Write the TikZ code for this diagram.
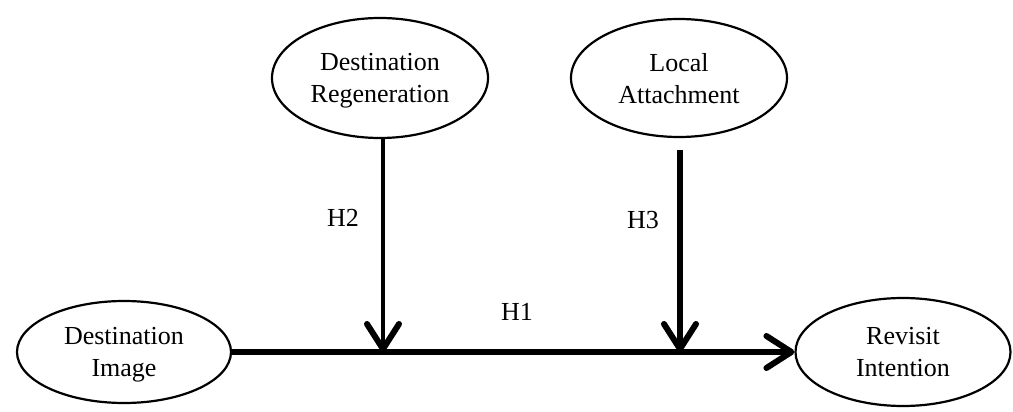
\documentclass[tikz,border=0pt]{standalone}
\usepackage{fontspec}
\setmainfont{Liberation Serif}
\usetikzlibrary{shapes.geometric,arrows.meta}
\begin{document}
\begin{tikzpicture}[x=1pt,y=-1pt,
  construct/.style={draw, ellipse, line width=2.2pt, inner sep=0pt, align=center,
    font=\fontsize{26}{32}\selectfont, text depth=0pt},
  lbl/.style={font=\fontsize{26}{30}\selectfont, inner sep=0pt},
  barb/.style={-{Straight Barb[length=25pt,width=32pt,line width=6pt,round]}}]
\useasboundingbox (0,0) rectangle (1013,412);
\node[construct, minimum width=216pt, minimum height=120pt] (DR) at (380,78) {Destination\\Regeneration};
\node[construct, minimum width=216pt, minimum height=118pt] (LA) at (679,78) {Local\\Attachment};
\node[construct, minimum width=214pt, minimum height=102pt] (DI) at (124,352) {Destination\\Image};
\node[construct, minimum width=215pt, minimum height=108pt] (RI) at (903,352) {Revisit\\Intention};
\coordinate (m2) at (383,352);
\coordinate (m3) at (680,352);
\draw[barb, line width=6pt] (DI.east) -- (RI.west);
\draw[barb, line width=4pt] (DR.south -| m2) -- (m2);
\draw[barb, line width=6pt, shorten <=12pt] (LA.south -| m3) -- (m3);
\node[lbl] (h1) at (517,312) {H1};
\node[lbl] (h2) at (343,218) {H2};
\node[lbl] (h3) at (643,220) {H3};
\end{tikzpicture}
\end{document}
